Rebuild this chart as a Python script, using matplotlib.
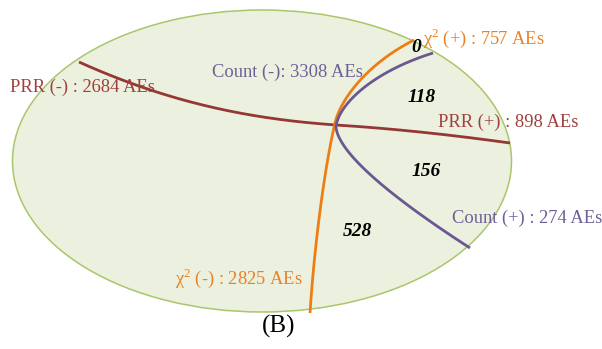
import matplotlib.pyplot as plt
import numpy as np
from matplotlib.patches import Ellipse

# AE counts per test outcome
tests = ['PRR', 'Count', 'chi2']
neg_counts = [2684, 3308, 2825]
pos_counts = [898, 274, 757]
# counts in the regions on the positive side
region_counts = [0, 118, 156, 528]

RED = '#953735'
RED_TXT = '#a0403e'
ORANGE = '#ee7d16'
ORANGE_TXT = '#e8822a'
PURPLE = '#6b5791'
PURPLE_TXT = '#6f5f98'

plt.rcParams['mathtext.fontset'] = 'custom'
plt.rcParams['mathtext.rm'] = 'Liberation Serif'


def bezier(p0, p1, p2, p3, n=100):
    t = np.linspace(0, 1, n)[:, None]
    pts = ((1 - t) ** 3 * np.array(p0) + 3 * (1 - t) ** 2 * t * np.array(p1)
           + 3 * (1 - t) * t ** 2 * np.array(p2) + t ** 3 * np.array(p3))
    return pts[:, 0], pts[:, 1]


def curve(*segments, color):
    xs, ys = zip(*(bezier(*s) for s in segments))
    ax.plot(np.concatenate(xs), np.concatenate(ys), color=color, lw=2,
            solid_capstyle='butt')


fig = plt.figure(figsize=(6.02, 3.49), dpi=100)
ax = fig.add_axes([0, 0, 1, 1])
ax.set_xlim(0, 602)
ax.set_ylim(349, 0)
ax.axis('off')

ax.add_patch(Ellipse((262, 161), 499, 302, facecolor='#ebf1de',
                     edgecolor='#a9c66c', lw=1.1))

# PRR split
curve(((79, 62), (170, 103), (250, 119), (336, 125)),
      ((336, 125), (400, 129), (460, 136), (510, 143)), color=RED)

# chi2 split
curve(((310, 313), (314, 250), (324, 170), (335, 123)),
      ((335, 123), (340, 101), (365, 65), (414, 40)), color=ORANGE)

# Count split
curve(((433, 53), (372, 72), (338, 105), (336, 127)),
      ((336, 127), (338, 150), (380, 190), (470, 248)), color=PURPLE)

font = dict(family=['Liberation Serif', 'DejaVu Serif'], fontsize=13.3)
chi = 'χ$^{\\mathrm{2}}$'
ax.text(10, 87, f'PRR (-) : {neg_counts[0]} AEs', color=RED_TXT, va='center', **font)
ax.text(438, 122, f'PRR (+) : {pos_counts[0]} AEs', color=RED_TXT, va='center', **font)
ax.text(212, 72, f'Count (-): {neg_counts[1]} AEs', color=PURPLE_TXT, va='center', **font)
ax.text(452, 218, f'Count (+) : {pos_counts[1]} AEs', color=PURPLE_TXT, va='center', **font)
ax.text(423, 38, f'{chi} (+) : {pos_counts[2]} AEs', color=ORANGE_TXT, va='center', **font)
ax.text(175, 278, f'{chi} (-) : {neg_counts[2]} AEs', color=ORANGE_TXT, va='center', **font)

num = dict(family='Liberation Serif', fontsize=14, fontweight='bold',
           fontstyle='italic', ha='center', va='center', color='black')
for (px, py), n in zip([(416, 48), (422, 98), (426, 171), (357, 232)], region_counts):
    ax.text(px, py, str(n), **num)

ax.text(279, 326, '(B)', family='Liberation Serif', fontsize=18,
        ha='center', va='center', color='black')

fig.savefig('out.png', dpi=100)
